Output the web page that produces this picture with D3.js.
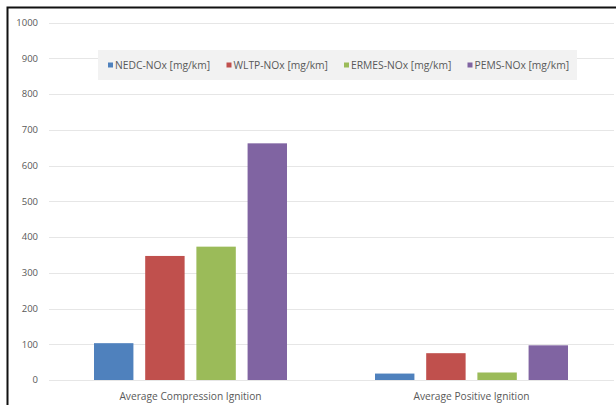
<!DOCTYPE html>
<html>
<head>
<meta charset="UTF-8">
<title></title>
<script src="https://cdn.jsdelivr.net/npm/d3@7"></script>
<style>
  body { margin: 0; background: #fff; }
  text { font-family: "Open Sans", "Liberation Sans", sans-serif; fill: #595959; }
</style>
</head>
<body>
<script>

    var categories = ["Average Compression Ignition", "Average Positive Ignition"];
    var series = ["NEDC-NOx [mg/km]", "WLTP-NOx [mg/km]", "ERMES-NOx [mg/km]", "PEMS-NOx [mg/km]"];
    var colors = ["#4f81bd", "#c0504d", "#9bbb59", "#8064a2"];
    // values per series, one per category
    var nedc = [103, 18];
    var wltp = [347, 75];
    var ermes = [373, 21];
    var pems = [662, 97];
    var yTicks = [0, 100, 200, 300, 400, 500, 600, 700, 800, 900, 1000];

    var values = [nedc, wltp, ermes, pems];

    var svg = d3.select("body").append("svg")
            .attr("width", 616)
            .attr("height", 405);

    // outer frame: only top and left edges show in the crop
    svg.append("path")
            .attr("d", "M7.5,405V7.5H616")
            .attr("fill", "none")
            .attr("stroke", "#111")
            .attr("stroke-width", 2);

    var x0 = d3.scaleBand()
            .domain(categories)
            .range([50, 612])
            .padding(0);

    // bands of width ~281: the bars take ~193 of that
    var band = x0.bandwidth();
    var groupW = 193;

    var x1 = d3.scaleBand()
            .domain(series)
            .range([0, groupW])
            .paddingInner(0.23);

    var y = d3.scaleLinear()
            .domain([0, 1000])
            .range([380, 22.5]);

    // grid
    svg.append("g").selectAll("line")
            .data(yTicks)
            .enter()
            .append("line")
            .attr("x1", 49).attr("x2", 614)
            .attr("y1", function(d){ return Math.round(y(d)) + 0.5; })
            .attr("y2", function(d){ return Math.round(y(d)) + 0.5; })
            .attr("stroke", "#e6e6e6")
            .attr("stroke-width", 1);

    svg.append("g").selectAll("text")
            .data(yTicks)
            .enter()
            .append("text")
            .attr("x", 38)
            .attr("y", function(d){ return y(d); })
            .attr("dy", "0.35em")
            .attr("text-anchor", "end")
            .style("font-size", "9.5px")
            .text(function(d){ return d; });

    // bars
    var groups = svg.append("g").selectAll("g")
            .data(categories)
            .enter()
            .append("g")
            .attr("transform", function(d){
                return "translate(" + (x0(d) + (band - groupW) / 2) + ",0)";
            });

    groups.selectAll("rect")
            .data(function(d, ci){
                return series.map(function(s, si){ return {s: s, i: si, v: values[si][ci]}; });
            })
            .enter()
            .append("rect")
            .attr("x", function(d){ return x1(d.s); })
            .attr("width", x1.bandwidth())
            .attr("y", function(d){ return y(d.v); })
            .attr("height", function(d){ return y(0) - y(d.v); })
            .attr("fill", function(d){ return colors[d.i]; });

    // category labels
    svg.append("g").selectAll("text")
            .data(categories)
            .enter()
            .append("text")
            .attr("x", function(d){ return x0(d) + band / 2; })
            .attr("y", 396)
            .attr("dy", "0.35em")
            .attr("text-anchor", "middle")
            .style("font-size", "10.2px")
            .text(function(d){ return d; });

    // legend
    var legend = svg.append("g");
    legend.append("rect")
            .attr("x", 98).attr("y", 50)
            .attr("width", 479).attr("height", 30)
            .attr("fill", "#f2f2f2");

    var legendX = [108, 226.5, 344, 467.5];
    var item = legend.selectAll("g")
            .data(series)
            .enter()
            .append("g")
            .attr("transform", function(d, i){ return "translate(" + legendX[i] + ",65)"; });

    item.append("rect")
            .attr("x", 0).attr("y", -2.5)
            .attr("width", 5).attr("height", 5)
            .attr("fill", function(d, i){ return colors[i]; });

    item.append("text")
            .attr("x", 7)
            .attr("dy", "0.35em")
            .style("font-size", "10.3px")
            .text(function(d){ return d; });

</script>
</body>
</html>
